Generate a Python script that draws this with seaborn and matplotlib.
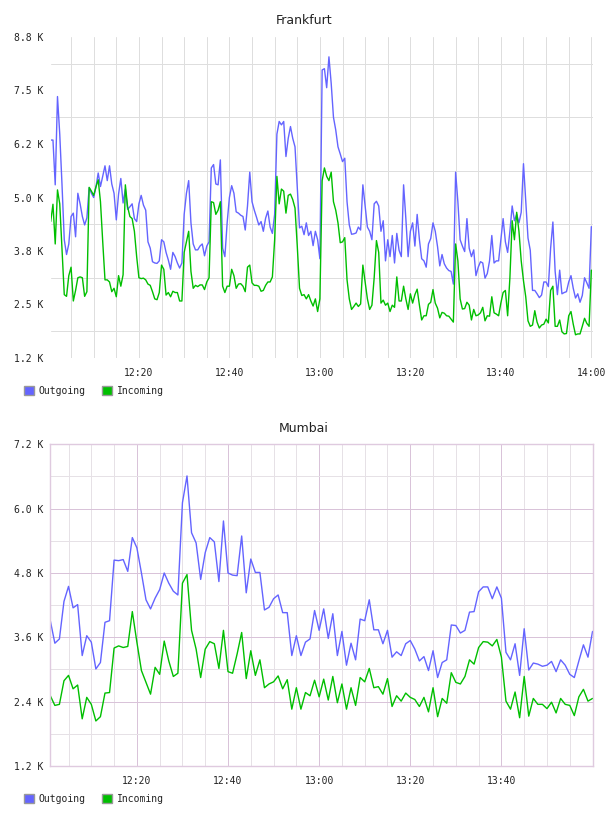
import numpy as np
import pandas as pd
import matplotlib
matplotlib.use("Agg")
import matplotlib.pyplot as plt
import matplotlib.dates as mdates
from matplotlib.patches import Patch
import seaborn as sns

## Frankfurt, one sample every 30 s, values in K
fra_out = [6.36, 6.36, 5.3, 7.39, 6.5, 5.3, 4.0, 3.65, 3.9, 4.55,
           4.63, 4.07, 5.1, 4.85, 4.55, 4.35, 4.52, 5.23, 5.1, 5.0,
           5.25, 5.58, 5.26, 5.5, 5.75, 5.4, 5.75, 5.32, 5.1, 4.47,
           5.08, 5.45, 4.87, 5.2, 4.72, 4.78, 4.85, 4.5, 4.43, 4.85,
           5.05, 4.82, 4.7, 3.95, 3.8, 3.48, 3.45, 3.44, 3.5, 4.0,
           3.95, 3.7, 3.52, 3.3, 3.7, 3.6, 3.45, 3.33, 3.45, 4.6,
           5.1, 5.4, 4.4, 3.9, 3.76, 3.76, 3.85, 3.9, 3.62, 3.85,
           3.95, 5.7, 5.78, 5.32, 5.3, 5.89, 3.8, 3.6, 4.4, 5.0,
           5.28, 5.1, 4.66, 4.63, 4.58, 4.55, 4.23, 4.8, 5.6, 4.9,
           4.7, 4.53, 4.35, 4.43, 4.2, 4.51, 4.68, 4.3, 4.15, 4.6,
           6.5, 6.8, 6.72, 6.8, 5.97, 6.4, 6.68, 6.4, 6.2, 5.26,
           4.28, 4.32, 4.12, 4.4, 4.1, 4.2, 3.86, 4.2, 4.0, 3.55,
           8.02, 8.05, 7.6, 8.33, 7.7, 6.9, 6.6, 6.2, 6.03, 5.85,
           5.93, 4.9, 4.35, 4.13, 4.14, 4.16, 4.3, 4.23, 5.3, 4.8,
           4.3, 4.2, 4.0, 4.85, 4.91, 4.8, 4.2, 4.45, 3.5, 4.0,
           3.6, 4.1, 3.45, 4.15, 3.75, 3.6, 5.3, 4.5, 3.6, 4.2,
           4.4, 3.85, 4.6, 4.0, 3.55, 3.5, 3.35, 3.9, 4.03, 4.4,
           4.2, 3.84, 3.38, 3.65, 3.43, 3.33, 3.27, 3.25, 2.95, 5.6,
           4.9, 4.0, 3.85, 3.72, 4.5, 3.8, 3.6, 3.76, 3.15, 3.35,
           3.48, 3.45, 3.09, 3.2, 3.5, 4.1, 3.45, 3.5, 3.5, 4.0,
           4.5, 3.95, 3.7, 4.2, 4.8, 4.45, 4.6, 4.4, 4.65, 5.8,
           4.9, 4.04, 3.75, 2.8, 2.8, 2.72, 2.63, 2.69, 3.0, 3.0,
           2.89, 3.8, 4.42, 3.25, 2.7, 3.28, 2.72, 2.75, 2.77, 3.0,
           3.15, 2.85, 2.62, 2.72, 2.52, 2.68, 3.1, 2.98, 2.85, 4.31]
fra_in = [4.43, 4.84, 3.9, 5.18, 4.85, 3.8, 2.7, 2.66, 3.15, 3.35,
          2.55, 2.8, 3.1, 3.12, 3.1, 2.66, 2.77, 5.24, 5.15, 5.05,
          5.25, 5.42, 4.9, 3.95, 3.05, 3.05, 3.0, 2.77, 2.85, 2.65,
          3.15, 2.9, 3.17, 5.3, 4.78, 4.55, 4.5, 4.2, 3.6, 3.1,
          3.08, 3.09, 3.05, 2.95, 2.92, 2.77, 2.6, 2.58, 2.75, 3.4,
          3.3, 2.69, 2.75, 2.65, 2.78, 2.75, 2.75, 2.55, 2.55, 3.7,
          3.95, 4.2, 3.25, 2.85, 2.92, 2.89, 2.93, 2.93, 2.82, 3.0,
          3.1, 4.9, 4.88, 4.6, 4.7, 4.9, 2.9, 2.75, 2.9, 2.9,
          3.3, 3.15, 2.85, 2.95, 2.96, 2.9, 2.77, 3.35, 3.4, 2.98,
          2.92, 2.92, 2.9, 2.78, 2.8, 2.92, 3.0, 3.0, 3.12, 4.0,
          5.5, 4.85, 5.2, 5.15, 4.63, 5.05, 5.08, 4.95, 4.75, 3.85,
          2.85, 2.68, 2.7, 2.6, 2.7, 2.55, 2.43, 2.6, 2.3, 2.6,
          5.4, 5.7, 5.5, 5.4, 5.6, 4.9, 4.7, 4.4, 3.93, 3.95,
          4.05, 3.05, 2.6, 2.35, 2.42, 2.5, 2.42, 2.48, 3.4, 3.0,
          2.6, 2.35, 2.45, 3.1, 3.98, 3.7, 2.5, 2.57, 2.45, 2.5,
          2.3, 2.45, 2.4, 3.12, 2.55, 2.55, 2.9, 2.6, 2.35, 2.72,
          2.5, 2.7, 2.83, 2.45, 2.1, 2.2, 2.2, 2.47, 2.52, 2.82,
          2.5, 2.38, 2.15, 2.28, 2.26, 2.2, 2.19, 2.12, 2.05, 3.9,
          3.5, 2.6, 2.36, 2.37, 2.52, 2.45, 2.1, 2.35, 2.2, 2.22,
          2.27, 2.4, 2.08, 2.2, 2.19, 2.65, 2.27, 2.24, 2.2, 2.5,
          2.75, 2.8, 2.2, 3.1, 4.45, 4.0, 4.65, 4.2, 3.5, 3.03,
          2.65, 2.08, 1.95, 1.98, 2.32, 2.05, 1.91, 1.98, 2.0, 2.12,
          2.03, 2.8, 2.9, 1.95, 1.95, 2.1, 1.82, 1.77, 1.78, 2.2,
          2.3, 2.0, 1.75, 1.77, 1.77, 1.95, 2.14, 2.02, 1.95, 3.28]

## Mumbai, one sample per minute, values in K
mum_out = [3.91, 3.49, 3.57, 4.27, 4.55, 4.15, 4.21, 3.26, 3.63, 3.51,
           3.01, 3.13, 3.88, 3.91, 5.04, 5.03, 5.05, 4.83, 5.46, 5.27,
           4.8, 4.3, 4.13, 4.33, 4.49, 4.8, 4.61, 4.46, 4.39, 6.11,
           6.61, 5.55, 5.36, 4.68, 5.18, 5.46, 5.38, 4.64, 5.77, 4.8,
           4.76, 4.75, 5.49, 4.43, 5.06, 4.81, 4.81, 4.11, 4.16, 4.32,
           4.39, 4.06, 4.06, 3.26, 3.63, 3.26, 3.51, 3.57, 4.1, 3.73,
           4.13, 3.58, 4.04, 3.26, 3.71, 3.08, 3.49, 3.18, 3.94, 3.91,
           4.3, 3.74, 3.74, 3.48, 3.73, 3.23, 3.33, 3.26, 3.48, 3.54,
           3.38, 3.16, 3.24, 2.98, 3.35, 2.85, 3.13, 3.18, 3.83, 3.82,
           3.68, 3.73, 4.07, 4.08, 4.45, 4.54, 4.54, 4.32, 4.54, 4.33,
           3.32, 3.18, 3.48, 2.89, 3.76, 2.99, 3.12, 3.1, 3.06, 3.08,
           3.15, 2.96, 3.18, 3.08, 2.91, 2.85, 3.16, 3.46, 3.23, 3.71]
mum_in = [2.51, 2.33, 2.35, 2.79, 2.89, 2.64, 2.71, 2.08, 2.48, 2.35,
          2.04, 2.12, 2.56, 2.57, 3.4, 3.44, 3.41, 3.43, 4.08, 3.51,
          2.98, 2.76, 2.54, 3.04, 2.91, 3.53, 3.16, 2.87, 2.93, 4.61,
          4.77, 3.73, 3.38, 2.85, 3.38, 3.52, 3.48, 3.02, 3.73, 2.96,
          2.93, 3.29, 3.69, 2.83, 3.35, 2.89, 3.18, 2.66, 2.73, 2.77,
          2.88, 2.64, 2.81, 2.26, 2.66, 2.26, 2.57, 2.51, 2.8, 2.49,
          2.82, 2.43, 2.87, 2.38, 2.73, 2.26, 2.66, 2.33, 2.85, 2.77,
          3.02, 2.66, 2.68, 2.54, 2.83, 2.31, 2.51, 2.41, 2.56, 2.48,
          2.44, 2.31, 2.48, 2.21, 2.66, 2.12, 2.46, 2.37, 2.94, 2.76,
          2.73, 2.87, 3.18, 3.1, 3.41, 3.52, 3.51, 3.44, 3.56, 3.23,
          2.41, 2.26, 2.58, 2.1, 2.87, 2.13, 2.46, 2.35, 2.35, 2.27,
          2.39, 2.19, 2.46, 2.35, 2.33, 2.14, 2.49, 2.63, 2.41, 2.46]

fra_times = pd.date_range("2024-01-01 12:00:30", periods=len(fra_out), freq="30s")
mum_times = pd.date_range("2024-01-01 12:01:00", periods=len(mum_out), freq="min")

fra_ylabels = ["1.2 K", "2.5 K", "3.8 K", "5.0 K", "6.2 K", "7.5 K", "8.8 K"]
mum_ylabels = ["1.2 K", "2.4 K", "3.6 K", "4.8 K", "6.0 K", "7.2 K"]
fra_xlabels = ["12:20", "12:40", "13:00", "13:20", "13:40", "14:00"]
mum_xlabels = ["12:20", "12:40", "13:00", "13:20", "13:40"]
series = ["Outgoing", "Incoming"]

c_out = "#6464ff"
c_in = "#00bf00"
mono = "DejaVu Sans Mono"

sns.set_style("white")
plt.rcParams["font.family"] = ["DejaVu Sans"]

fig = plt.figure(figsize=(6.08, 8.16), dpi=100)
ax1 = fig.add_axes([50.7 / 608, 1 - 358 / 816, 542.3 / 608, 321 / 816])
ax2 = fig.add_axes([50.3 / 608, 1 - 766 / 816, 543 / 608, 321.7 / 816])


def tstamp(s):
    return pd.Timestamp("2024-01-01 " + s)


## GRAFICO Frankfurt
sns.lineplot(x=fra_times, y=fra_out, ax=ax1, color=c_out, linewidth=1.0)
sns.lineplot(x=fra_times, y=fra_in, ax=ax1, color=c_in, linewidth=1.0)
ax1.set_xlim(fra_times[0], tstamp("14:00:22"))
ax1.set_ylim(1.2, 8.8)
ypos = np.linspace(1.2, 8.8, len(fra_ylabels))
ax1.set_yticks(ypos)
ax1.set_yticklabels(fra_ylabels)
ax1.set_yticks((ypos[:-1] + ypos[1:]) / 2, minor=True)
ax1.set_xticks([tstamp(s) for s in fra_xlabels])
ax1.set_xticklabels(fra_xlabels)
ax1.xaxis.set_minor_locator(mdates.MinuteLocator(byminute=range(0, 60, 5)))
ax1.grid(False)
ax1.grid(which="both", axis="x", color="#dedede", lw=0.72)
ax1.grid(which="minor", axis="y", color="#dedede", lw=0.72)
for sp in ax1.spines.values():
    sp.set_visible(False)
fig.text(0.5, 1 - 20.5 / 816, "Frankfurt", ha="center", va="center", fontsize=9, color="#222222")

## GRAFICO Mumbai
sns.lineplot(x=mum_times, y=mum_out, ax=ax2, color=c_out, linewidth=1.0)
sns.lineplot(x=mum_times, y=mum_in, ax=ax2, color=c_in, linewidth=1.0)
ax2.set_xlim(mum_times[0], mum_times[-1] + pd.Timedelta(seconds=10))
ax2.set_ylim(1.2, 7.2)
ypos = np.linspace(1.2, 7.2, len(mum_ylabels))
ax2.set_yticks(ypos)
ax2.set_yticklabels(mum_ylabels)
ax2.set_yticks((ypos[:-1] + ypos[1:]) / 2, minor=True)
ax2.set_xticks([tstamp(s) for s in mum_xlabels])
ax2.set_xticklabels(mum_xlabels)
ax2.xaxis.set_minor_locator(mdates.MinuteLocator(byminute=range(0, 60, 5)))
ax2.grid(False)
ax2.grid(which="minor", color="#e6e1e6", lw=0.72)
ax2.grid(which="major", color="#d9c3d9", lw=0.72)
for sp in ax2.spines.values():
    sp.set_color("#dfcadf")
    sp.set_linewidth(1.0)
fig.text(0.5, 1 - 429 / 816, "Mumbai", ha="center", va="center", fontsize=9, color="#222222")

for ax, ytop in [(ax1, 386), (ax2, 794)]:
    ax.set_axisbelow(True)
    ax.set_xlabel("")
    ax.set_ylabel("")
    ax.tick_params(which="both", length=0, labelsize=7, labelcolor="#222222")
    ax.tick_params(axis="y", pad=5)
    ax.tick_params(axis="x", pad=7.5)
    for lab in ax.get_xticklabels() + ax.get_yticklabels():
        lab.set_fontfamily(mono)
    handles = [Patch(facecolor=c_out, edgecolor="#999999", label=series[0]),
               Patch(facecolor=c_in, edgecolor="#999999", label=series[1])]
    leg = ax.legend(handles=handles, loc="upper left", bbox_to_anchor=(24 / 608, 1 - ytop / 816),
                    bbox_transform=fig.transFigure, ncol=2, frameon=False, fontsize=7,
                    handlelength=1.0, handleheight=1.1, handletextpad=0.5, columnspacing=1.7,
                    borderpad=0, borderaxespad=0)
    for t in leg.get_texts():
        t.set_fontfamily(mono)
        t.set_color("#222222")

fig.savefig("out.png", dpi=100)
